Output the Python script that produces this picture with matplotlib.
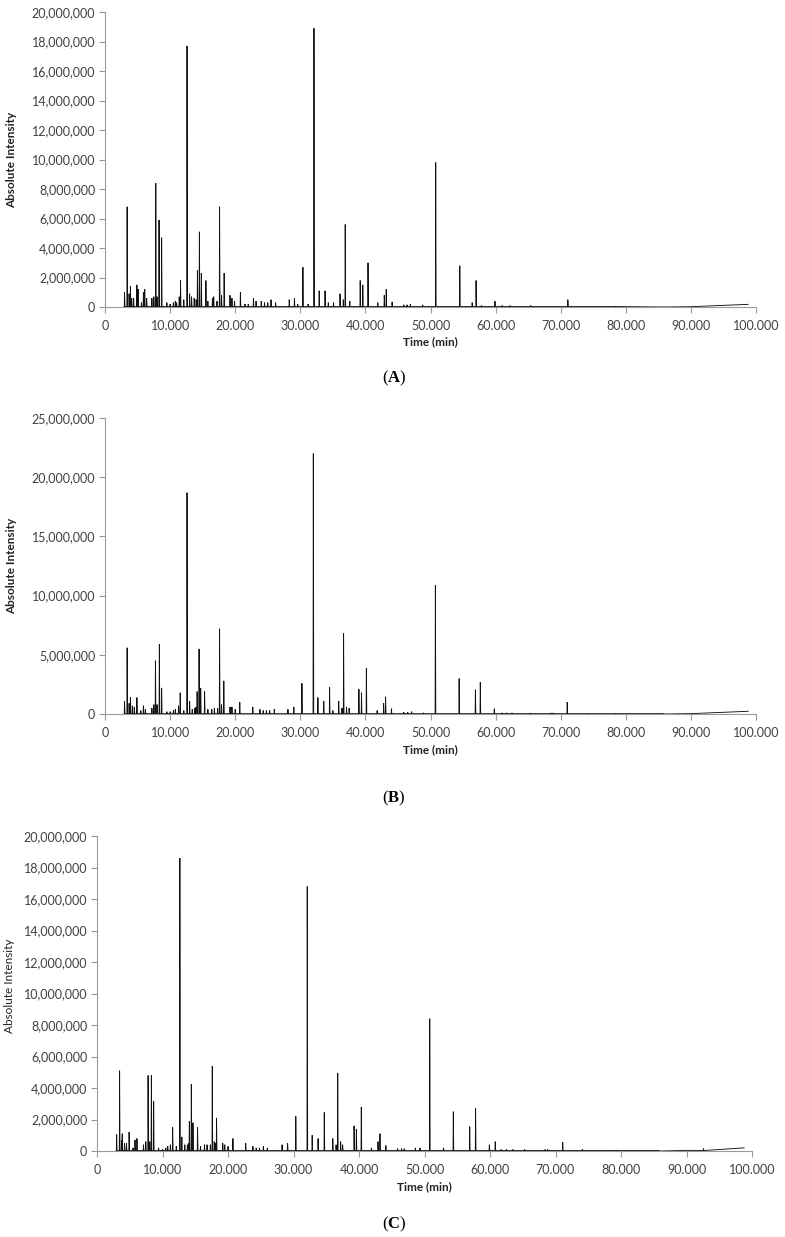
import matplotlib
matplotlib.use("Agg")
import matplotlib.pyplot as plt
from matplotlib.ticker import FuncFormatter, MultipleLocator
import numpy as np

plt.rcParams['font.family'] = ['Lato', 'DejaVu Sans']
plt.rcParams['mathtext.fontset'] = 'custom'
plt.rcParams['mathtext.rm'] = 'Liberation Serif'
plt.rcParams['mathtext.bf'] = 'Liberation Serif:bold'

# peak tables: retention time (min), height (millions)
a_time = [3.0, 3.4, 3.7, 3.9, 4.1, 4.4, 4.9, 5.1, 5.6, 5.9, 6.1, 6.4, 7.2, 7.5, 7.8, 8.0, 8.3, 8.7,
          9.5, 10.0, 10.5, 10.8, 11.0, 11.4, 11.6, 12.1, 12.6, 13.0, 13.3, 13.7, 14.0, 14.2, 14.5,
          14.8, 15.5, 15.8, 16.5, 16.7, 17.2, 17.6, 17.9, 18.3, 19.2, 19.5, 19.9, 20.8, 21.5, 22.0,
          22.8, 23.2, 24.0, 24.5, 25.0, 25.5, 26.2, 28.3, 29.1, 29.6, 30.4, 31.2, 32.1, 32.9, 33.8,
          34.3, 35.1, 36.1, 36.6, 36.9, 37.6, 39.2, 39.6, 40.4, 41.9, 42.9, 43.2, 44.1, 45.9, 46.4,
          46.9, 48.8, 50.8, 54.5, 56.4, 57.0, 57.8, 59.9, 61.0, 62.2, 65.4, 71.1, 78.4]
a_height = [1.0, 6.8, 0.9, 1.4, 0.6, 0.6, 1.5, 1.2, 0.3, 1.0, 1.2, 0.6, 0.6, 0.7, 8.4, 0.7, 5.9, 4.7,
            0.3, 0.2, 0.3, 0.4, 0.3, 0.7, 1.8, 0.5, 17.7, 0.9, 0.7, 0.6, 0.5, 2.5, 5.1,
            2.3, 1.8, 0.4, 0.6, 0.7, 0.4, 6.8, 0.8, 2.3, 0.8, 0.6, 0.4, 1.0, 0.2, 0.2,
            0.6, 0.4, 0.4, 0.3, 0.3, 0.5, 0.3, 0.5, 0.6, 0.2, 2.7, 0.2, 18.9, 1.1, 1.1,
            0.3, 0.3, 0.9, 0.5, 5.6, 0.4, 1.8, 1.5, 3.0, 0.3, 0.8, 1.2, 0.35, 0.15, 0.15,
            0.2, 0.15, 9.8, 2.8, 0.3, 1.8, 0.1, 0.4, 0.1, 0.1, 0.1, 0.5, 0.05]
a_base_time = [2.9, 86.0, 90.0, 98.8]
a_base_level = [0.0, 0.0, 0.02, 0.18]

b_time = [3.0, 3.4, 3.7, 3.9, 4.2, 4.5, 4.9, 5.5, 5.9, 6.2, 7.2, 7.5, 7.75, 8.0, 8.35, 8.7,
          9.5, 10.0, 10.5, 10.8, 11.3, 11.55, 12.1, 12.6, 13.0, 13.4, 13.8, 14.0, 14.15, 14.45,
          14.7, 15.3, 15.8, 16.4, 16.8, 17.3, 17.6, 17.9, 18.25, 19.2, 19.5, 20.0, 20.7, 22.7,
          23.8, 24.3, 24.8, 25.3, 26.0, 28.1, 29.0, 30.25, 32.0, 32.7, 33.6, 34.5, 35.0, 35.9,
          36.4, 36.65, 37.1, 37.5, 39.0, 39.4, 40.15, 41.8, 42.8, 43.1, 44.0, 45.9, 46.5, 47.1,
          48.9, 50.75, 54.4, 56.9, 57.65, 59.8, 61.0, 61.7, 62.5, 65.3, 68.5, 68.8, 71.0, 74.1,
          78.4, 79.3, 85.6]
b_height = [1.1, 5.6, 0.9, 1.4, 0.7, 0.6, 1.4, 0.3, 0.7, 0.4, 0.5, 0.8, 4.5, 0.8, 5.9, 2.2,
            0.2, 0.2, 0.3, 0.4, 0.7, 1.8, 0.3, 18.7, 1.1, 0.4, 0.5, 0.6, 1.9, 5.5,
            2.2, 1.9, 0.4, 0.4, 0.5, 0.5, 7.2, 0.8, 2.8, 0.6, 0.6, 0.4, 1.0, 0.6,
            0.4, 0.3, 0.3, 0.3, 0.4, 0.4, 0.6, 2.6, 22.0, 1.4, 1.1, 2.25, 0.3, 1.1,
            0.5, 6.8, 0.6, 0.5, 2.1, 1.8, 3.85, 0.3, 0.9, 1.45, 0.45, 0.15, 0.15, 0.2,
            0.1, 10.9, 3.0, 2.05, 2.7, 0.45, 0.1, 0.1, 0.1, 0.07, 0.08, 0.08, 1.0, 0.05,
            0.05, 0.05, 0.07]
b_base_time = [2.9, 86.0, 90.0, 98.8]
b_base_level = [0.0, 0.0, 0.03, 0.23]

c_time = [3.0, 3.45, 3.75, 3.85, 4.2, 4.5, 4.9, 5.5, 5.8, 6.1, 7.1, 7.45, 7.8, 8.05, 8.3, 8.65,
          9.4, 10.0, 10.5, 10.8, 11.2, 11.55, 12.1, 12.65, 12.95, 13.4, 13.8, 14.0, 14.1, 14.4,
          14.65, 15.35, 15.8, 16.4, 16.8, 17.3, 17.6, 17.9, 18.1, 18.25, 19.2, 19.5, 20.0, 20.75,
          22.7, 23.8, 24.3, 24.8, 25.4, 26.0, 28.25, 29.1, 30.35, 32.1, 32.85, 33.75, 34.7, 36.0,
          36.5, 36.75, 37.2, 37.5, 39.25, 39.6, 40.35, 41.9, 42.9, 43.2, 44.1, 45.9, 46.5, 46.9,
          48.6, 49.3, 50.8, 52.9, 54.4, 56.9, 57.8, 59.9, 60.8, 61.7, 62.5, 63.5, 65.3, 68.4,
          68.8, 71.1, 74.1, 78.3, 79.3, 85.6, 92.6]
c_height = [1.05, 5.1, 0.7, 1.1, 0.5, 0.5, 1.2, 0.2, 0.7, 0.8, 0.4, 0.6, 4.8, 0.6, 4.8, 3.15,
            0.2, 0.1, 0.2, 0.3, 0.4, 1.5, 0.3, 18.6, 0.9, 0.4, 0.4, 0.5, 1.9, 4.25,
            1.8, 1.5, 0.3, 0.4, 0.4, 0.4, 5.4, 0.6, 0.5, 2.1, 0.5, 0.4, 0.3, 0.8,
            0.5, 0.3, 0.2, 0.2, 0.3, 0.2, 0.4, 0.5, 2.2, 16.8, 1.0, 0.8, 2.45, 0.8,
            0.4, 4.95, 0.6, 0.4, 1.6, 1.4, 2.8, 0.2, 0.6, 1.1, 0.35, 0.15, 0.15, 0.15,
            0.2, 0.2, 8.4, 0.2, 2.5, 1.55, 2.7, 0.4, 0.6, 0.1, 0.1, 0.1, 0.1, 0.1,
            0.1, 0.57, 0.1, 0.05, 0.05, 0.05, 0.15]
c_base_time = [2.9, 86.0, 90.0, 98.8]
c_base_level = [0.0, 0.0, 0.04, 0.2]

x_ticks = [0, 10, 20, 30, 40, 50, 60, 70, 80, 90, 100]


def trace(times, heights, base_t, base_v):
    # each peak: foot - apex - foot, merged with the baseline anchor points
    xs, ys = list(base_t), list(base_v)
    for t, h in zip(times, heights):
        xs += [t - 0.04, t, t + 0.06]
        ys += [0.03, h, 0.03]
    order = np.argsort(xs, kind='stable')
    return np.array(xs)[order], np.array(ys)[order] * 1e6


W, H = 785, 1237
fig = plt.figure(figsize=(W / 100, H / 100), dpi=100)

panels = [
    # data, ymax, ystep, (left, right, top, bottom px), bold ylabel, ylabel x, ylabel y, xlabel y, tag y, tag
    ((a_time, a_height, a_base_time, a_base_level), 20e6, 2e6, (105, 756, 12, 307), True, 12, 160, 342, 378, 'A'),
    ((b_time, b_height, b_base_time, b_base_level), 25e6, 5e6, (105, 756, 418, 714), True, 12, 566, 750, 798, 'B'),
    ((c_time, c_height, c_base_time, c_base_level), 20e6, 2e6, (97, 752, 836, 1151), False, 10, 986, 1187, 1224, 'C'),
]

for data, ymax, ystep, (l, r, t, b), bold, ylx, yly, xly, tagy, tag in panels:
    ax = fig.add_axes([l / W, 1 - b / H, (r - l) / W, (b - t) / H])
    x, y = trace(*data)
    ax.plot(x, y, color='#111111', lw=0.65, solid_joinstyle='miter')
    ax.set_xlim(0, 100)
    ax.set_ylim(0, ymax)
    ax.set_xticks(x_ticks)
    ax.yaxis.set_major_locator(MultipleLocator(ystep))
    ax.xaxis.set_major_formatter(FuncFormatter(lambda v, p: '0' if v == 0 else f'{v:.3f}'))
    ax.yaxis.set_major_formatter(FuncFormatter(lambda v, p: f'{v:,.0f}'))
    for s in ['top', 'right']:
        ax.spines[s].set_visible(False)
    for s in ['left', 'bottom']:
        ax.spines[s].set_color('#9a9a9a')
        ax.spines[s].set_linewidth(0.8)
    ax.tick_params(axis='both', colors='#9a9a9a', labelcolor='#404040', labelsize=9,
                   length=4, width=0.8, direction='out')
    ax.tick_params(axis='x', pad=5)
    ax.tick_params(axis='y', pad=3)

    fig.text(ylx / W, 1 - yly / H, 'Absolute Intensity', rotation=90, ha='center', va='center',
             fontsize=8.5, fontweight='bold' if bold else 'normal', color='#222222')
    fig.text((l + r) / 2 / W, 1 - xly / H, 'Time (min)', ha='center', va='center',
             fontsize=8.5, fontweight='bold', color='#222222')
    fig.text(394 / W, 1 - tagy / H, r'$\mathrm{(}\mathbf{' + tag + r'}\mathrm{)}$', ha='center', va='center',
             fontsize=12, color='black')

fig.savefig('out.png', dpi=100, facecolor='white')
